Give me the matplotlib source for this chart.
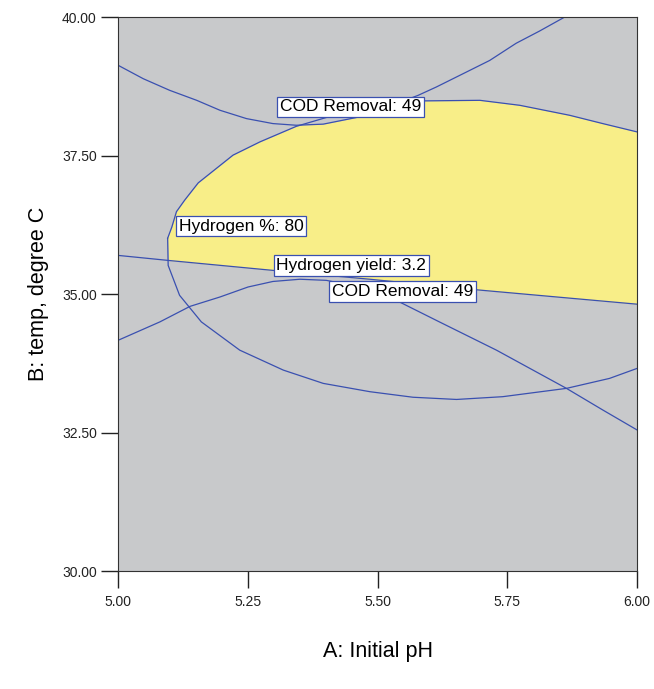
import numpy as np
import matplotlib
matplotlib.use("Agg")
import matplotlib.pyplot as plt

plt.rcParams['font.family'] = ['Liberation Sans', 'DejaVu Sans']

# contours (A: Initial pH, B: temp)
cod_up_x = [5.000, 5.048, 5.099, 5.151, 5.196, 5.247, 5.298, 5.343, 5.395, 5.459,
            5.519, 5.578, 5.613, 5.671, 5.716, 5.767, 5.812, 5.860]
cod_up_y = [39.13, 38.89, 38.68, 38.50, 38.32, 38.17, 38.08, 38.05, 38.07, 38.19,
            38.38, 38.59, 38.74, 39.01, 39.22, 39.53, 39.75, 40.00]

cod_lo_x = [5.000, 5.080, 5.138, 5.196, 5.250, 5.298, 5.350, 5.401, 5.465, 5.542,
            5.619, 5.729, 5.864, 5.934, 6.000]
cod_lo_y = [34.17, 34.50, 34.78, 34.95, 35.13, 35.23, 35.27, 35.25, 35.13, 34.86,
            34.50, 33.99, 33.30, 32.91, 32.55]

h2pct_top_x = [5.095, 5.103, 5.112, 5.128, 5.154, 5.221, 5.273, 5.343, 5.401, 5.494,
               5.591, 5.697, 5.774, 5.870, 5.934, 6.000]
h2pct_top_y = [36.01, 36.21, 36.49, 36.70, 37.01, 37.51, 37.75, 38.03, 38.19, 38.39,
               38.49, 38.50, 38.41, 38.23, 38.08, 37.93]
h2pct_bot_x = [5.095, 5.096, 5.118, 5.160, 5.234, 5.318, 5.395, 5.485, 5.568, 5.652,
               5.741, 5.864, 5.947, 6.000]
h2pct_bot_y = [36.01, 35.52, 34.98, 34.50, 33.99, 33.63, 33.39, 33.24, 33.14, 33.10,
               33.15, 33.30, 33.48, 33.66]

h2yld_x = [5.000, 5.096, 5.298, 5.485, 5.690, 6.000]
h2yld_y = [35.70, 35.61, 35.43, 35.27, 35.08, 34.82]

labels = ["COD Removal: 49", "Hydrogen %: 80", "Hydrogen yield: 3.2", "COD Removal: 49"]
label_x = [5.448, 5.237, 5.449, 5.548]
label_y = [38.38, 36.23, 35.52, 35.05]

xticks = [5.00, 5.25, 5.50, 5.75, 6.00]
yticks = [30.00, 32.50, 35.00, 37.50, 40.00]

line_col = '#3a50b0'

fig = plt.figure(figsize=(6.54, 6.89), dpi=100)
ax = fig.add_axes([0.181, 0.171, 0.793, 0.804])
ax.set_facecolor('#c8c9cb')

# feasible (yellow) window
xs = np.linspace(min(h2pct_top_x), 6.0, 600)
top = np.minimum(np.interp(xs, h2pct_top_x, h2pct_top_y), np.interp(xs, cod_up_x, cod_up_y))
bot = np.maximum(np.interp(xs, h2pct_bot_x, h2pct_bot_y), np.interp(xs, h2yld_x, h2yld_y))
ax.fill_between(xs, bot, top, where=top > bot, color='#f8ee88', lw=0, interpolate=True)

for cx, cy in [(cod_up_x, cod_up_y), (cod_lo_x, cod_lo_y),
               (h2pct_top_x, h2pct_top_y), (h2pct_bot_x, h2pct_bot_y), (h2yld_x, h2yld_y)]:
    ax.plot(cx, cy, color=line_col, lw=0.9)

for t, lx, ly in zip(labels, label_x, label_y):
    ax.text(lx, ly, t, ha='center', va='center', fontsize=12.5,
            bbox=dict(boxstyle='square,pad=0.15', fc='white', ec=line_col, lw=0.9))

ax.set_xlim(5, 6)
ax.set_ylim(30, 40)
ax.set_xticks(xticks)
ax.set_yticks(yticks)
ax.set_xticklabels(['%.2f' % v for v in xticks])
ax.set_yticklabels(['%.2f' % v for v in yticks])
ax.tick_params(direction='out', length=12.5, width=1, labelsize=10, colors='#222222')
ax.tick_params(axis='x', pad=5)
ax.tick_params(axis='y', pad=3)
for s in ax.spines.values():
    s.set_color('#333333')

ax.set_xlabel('A: Initial pH', fontsize=15.5, labelpad=23)
ax.set_ylabel('B: temp, degree C', fontsize=15.5, labelpad=9)

fig.savefig('out.png', dpi=100)
